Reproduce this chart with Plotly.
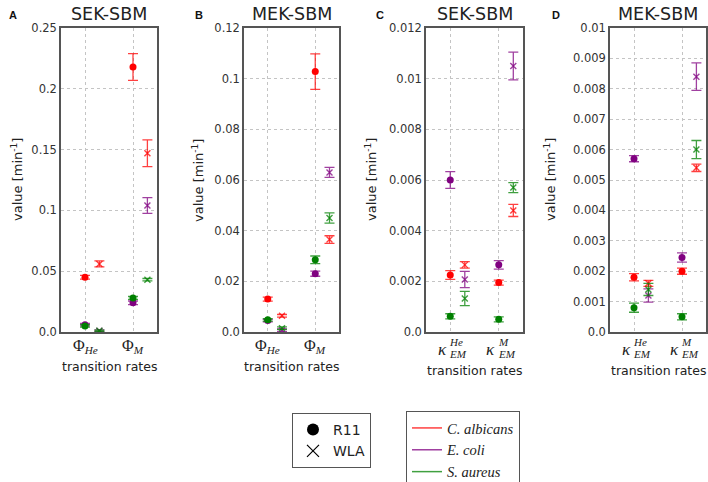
import plotly.graph_objects as go

W, H = 708, 482

# species / methods
species = ["C. albicans", "E. coli", "S. aureus"]
methods = ["R11", "WLA"]

# panel A  (rows: species, cols: [Phi_He, Phi_M])
a_r11 = [[0.045, 0.218], [0.006, 0.024], [0.005, 0.028]]
a_r11_err = [[0.0015, 0.011], [0.001, 0.0015], [0.001, 0.0012]]
a_wla = [[0.056, 0.147], [0.001, 0.104], [0.001, 0.043]]
a_wla_err = [[0.0025, 0.011], [0.0008, 0.0065], [0.0006, 0.001]]

# panel B
b_r11 = [[0.013, 0.1028], [0.0045, 0.023], [0.0048, 0.0285]]
b_r11_err = [[0.0008, 0.007], [0.0005, 0.001], [0.0005, 0.0015]]
b_wla = [[0.0064, 0.0365], [0.0007, 0.063], [0.0015, 0.045]]
b_wla_err = [[0.0005, 0.0015], [0.0005, 0.002], [0.0005, 0.002]]

# panel C  (cols: [kappa_EM^He, kappa_EM^M])
c_r11 = [[0.00225, 0.00195], [0.0060, 0.00265], [0.00062, 0.0005]]
c_r11_err = [[0.00017, 0.0001], [0.00033, 0.00017], [0.0001, 0.0001]]
c_wla = [[0.00265, 0.0048], [0.00207, 0.0105], [0.00132, 0.0057]]
c_wla_err = [[0.00013, 0.00024], [0.00032, 0.00055], [0.00028, 0.0002]]

# panel D
d_r11 = [[0.0018, 0.002], [0.0057, 0.00245], [0.0008, 0.0005]]
d_r11_err = [[0.00012, 0.0001], [0.0001, 0.00015], [0.00015, 0.0001]]
d_wla = [[0.0016, 0.0054], [0.0012, 0.0084], [0.0014, 0.006]]
d_wla_err = [[0.0001, 0.00012], [0.00022, 0.00045], [0.0002, 0.0003]]

a_ticks = [0.0, 0.05, 0.1, 0.15, 0.2, 0.25]
b_ticks = [0.0, 0.02, 0.04, 0.06, 0.08, 0.1, 0.12]
c_ticks = [0.0, 0.002, 0.004, 0.006, 0.008, 0.01, 0.012]
d_ticks = [0.0, 0.001, 0.002, 0.003, 0.004, 0.005, 0.006, 0.007, 0.008, 0.009, 0.01]

phi_labels = ["Φ", "Φ"]
phi_subs = ["He", "M"]
kappa_sups = ["He", "M"]
kappa_subs = ["EM", "EM"]

colors = ["#ff0000", "#800080", "#008000"]
err_colors = ["rgba(255,0,0,0.75)", "rgba(128,0,128,0.75)", "rgba(0,128,0,0.75)"]
wla_offset = 0.3

SANS = "DejaVu Sans"
SERIF = "Liberation Serif"


def px(x):
    return x / W


def py(y):
    return 1 - y / H


def note(text, x, y, size, family=SANS, color="#222222", **kw):
    d = dict(text=text, x=x, y=y, xref="paper", yref="paper", showarrow=False,
             xanchor="center", yanchor="middle",
             font=dict(family=family, size=size, color=color))
    d.update(kw)
    return d


panels = [
    dict(letter="A", title="SEK-SBM", x0=61, x1=157, r11=a_r11, r11e=a_r11_err,
         wla=a_wla, wlae=a_wla_err, ticks=a_ticks, kind="phi", ytx=44),
    dict(letter="B", title="MEK-SBM", x0=244, x1=339, r11=b_r11, r11e=b_r11_err,
         wla=b_wla, wlae=b_wla_err, ticks=b_ticks, kind="phi", ytx=46),
    dict(letter="C", title="SEK-SBM", x0=426, x1=523, r11=c_r11, r11e=c_r11_err,
         wla=c_wla, wlae=c_wla_err, ticks=c_ticks, kind="kappa", ytx=55),
    dict(letter="D", title="MEK-SBM", x0=610, x1=706, r11=d_r11, r11e=d_r11_err,
         wla=d_wla, wlae=d_wla_err, ticks=d_ticks, kind="kappa", ytx=60),
]
letter_x = [13, 199, 380, 556]

Y0, Y1 = 28, 332

fig = go.Figure()
annotations = []
layout = {}

for i, p in enumerate(panels):
    n = "" if i == 0 else str(i + 1)
    xa, ya = "x" + n, "y" + n
    for s in range(3):
        # R11 points sit on the category, WLA shifted right
        for vals, errs, off, is_wla in [(p["r11"], p["r11e"], 0.0, False),
                                        (p["wla"], p["wlae"], wla_offset, True)]:
            xs = [k + off for k in range(len(vals[s]))]
            if is_wla:
                marker = dict(symbol="x-thin", size=6, color=err_colors[s],
                              line=dict(width=1.4, color=err_colors[s]))
            else:
                marker = dict(symbol="circle", size=7, color=colors[s])
            fig.add_trace(go.Scatter(
                x=xs, y=vals[s], mode="markers", marker=marker,
                error_y=dict(type="data", array=errs[s], color=err_colors[s],
                             thickness=1.3, width=5),
                xaxis=xa, yaxis=ya, showlegend=False, hoverinfo="skip"))

    ticks = p["ticks"]
    layout["xaxis" + n] = dict(
        domain=[px(p["x0"]), px(p["x1"])], anchor=ya, range=[-0.5, 1.5],
        tickvals=[0, 1], showticklabels=False, showgrid=True, gridcolor="#c4c4c4",
        griddash="dot", gridwidth=1, zeroline=False, showline=True, mirror=True,
        linecolor="#555555", linewidth=1.5, ticks="", fixedrange=True, automargin=False)
    layout["yaxis" + n] = dict(
        domain=[py(Y1), py(Y0)], anchor=xa, range=[0, ticks[-1]],
        tickvals=ticks, ticktext=["0.0" if t == 0 else f"{t:g}" for t in ticks],
        tickfont=dict(family=SANS, size=11.5, color="#333333"),
        showgrid=True, gridcolor="#c4c4c4", griddash="dot", gridwidth=1,
        zeroline=False, showline=True, mirror=True, linecolor="#555555",
        linewidth=1.5, ticks="", fixedrange=True, automargin=False)

    cx = (p["x0"] + p["x1"]) / 2
    annotations.append(note(p["title"], px(cx), py(14), 17.5))
    annotations.append(note("<b>%s</b>" % p["letter"], px(letter_x[i]), py(15), 11,
                            family="Liberation Sans", color="#111111"))
    annotations.append(note("value [min<sup>-1</sup>]", px(p["x0"] - p["ytx"]), py(180), 13,
                            textangle=-90))
    xt_y = 366 if p["kind"] == "phi" else 370
    annotations.append(note("transition rates", px(cx), py(xt_y), 12.5))

    # category labels
    for k in range(2):
        if p["kind"] == "phi":
            annotations.append(note("%s<sub><i>%s</i></sub>" % (phi_labels[k], phi_subs[k]),
                                    k, py(346), 16, family=SERIF, xref=xa))
        else:
            annotations.append(note("<i>κ</i>", k, py(349), 17, family=SERIF,
                                    xref=xa, xshift=-8))
            annotations.append(note("<i>%s</i>" % kappa_sups[k], k, py(342), 11, family=SERIF,
                                    xref=xa, xanchor="left", xshift=-3))
            annotations.append(note("<i>%s</i>" % kappa_subs[k], k, py(354), 11, family=SERIF,
                                    xref=xa, xanchor="left", xshift=-3))

# legend entries (empty traces)
fig.add_trace(go.Scatter(x=[None], y=[None], mode="markers", name="R11",
                         marker=dict(symbol="circle", size=12, color="black"), legend="legend"))
fig.add_trace(go.Scatter(x=[None], y=[None], mode="markers", name="WLA",
                         marker=dict(symbol="x-thin", size=12, color="black",
                                     line=dict(width=1.2, color="black")), legend="legend"))
for s in range(3):
    fig.add_trace(go.Scatter(x=[None], y=[None], mode="lines", name="<i>%s</i>" % species[s],
                             line=dict(color=err_colors[s], width=1.5), legend="legend2"))

fig.update_layout(
    width=W, height=H, margin=dict(l=0, r=0, t=0, b=0, autoexpand=False),
    plot_bgcolor="white", paper_bgcolor="white",
    annotations=annotations,
    legend=dict(x=px(292), y=py(413), xanchor="left", yanchor="top",
                bordercolor="#555555", borderwidth=1, bgcolor="white",
                font=dict(family=SANS, size=14, color="#222222"),
                tracegroupgap=0, itemwidth=30),
    legend2=dict(x=px(406), y=py(411), xanchor="left", yanchor="top",
                 bordercolor="#555555", borderwidth=1, bgcolor="white",
                 font=dict(family=SERIF, size=14.5, color="#222222"),
                 tracegroupgap=0, itemwidth=30),
    **layout,
)

# the page body has a default margin; drop it so the figure fills the window
fig.write_html("out.html", config={"displayModeBar": False},
               post_script="document.body.style.margin='0';")
